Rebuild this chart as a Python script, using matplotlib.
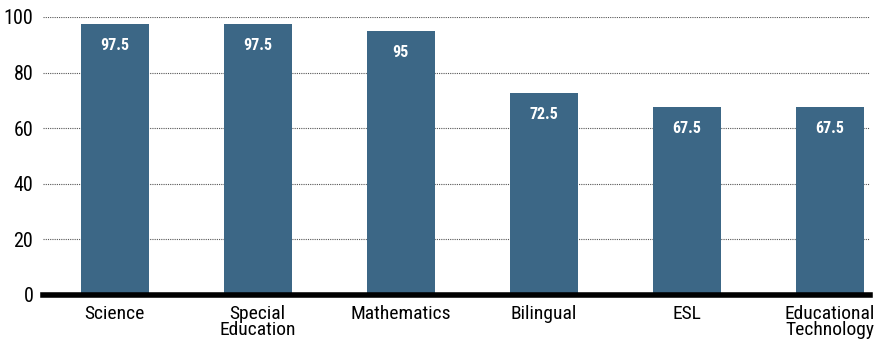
import matplotlib
matplotlib.use('Agg')
import matplotlib.pyplot as plt
from matplotlib import font_manager

# Subject areas and their percentages
materias = ['Science', 'Special\nEducation', 'Mathematics', 'Bilingual', 'ESL', 'Educational\nTechnology']
valores = [97.5, 97.5, 95, 72.5, 67.5, 67.5]
ticks_y = [0, 20, 40, 60, 80, 100]

nombres = {f.name for f in font_manager.fontManager.ttflist}
fuente = 'DejaVu Sans'
for candidata in ['Liberation Sans Narrow', 'Roboto Condensed', 'Roboto', 'Liberation Sans']:
    if candidata in nombres:
        fuente = candidata
        break
plt.rcParams['font.family'] = [fuente, 'DejaVu Sans']

fig = plt.figure(figsize=(8.75, 3.5), dpi=100)
ax = fig.add_axes([43 / 875, 1 - 295 / 350, (870 - 43) / 875, 278 / 350])

x = range(len(materias))
barras = ax.bar(x, valores, width=0.475, color='#3c6786', zorder=3)

for b, v in zip(barras, valores):
    ax.annotate(f'{v:g}', (b.get_x() + b.get_width() / 2, v), xytext=(0, -10),
                textcoords='offset points', ha='center', va='top',
                color='white', fontsize=11.5, fontweight='bold', zorder=4)

ax.set_xlim(-0.5, 5.28)
ax.set_ylim(0, 100)
ax.set_yticks(ticks_y)
ax.set_xticks(list(x))
ax.set_xticklabels(materias, fontsize=14, linespacing=0.9)
ax.tick_params(axis='y', labelsize=14.5, length=0, pad=7)
ax.tick_params(axis='x', length=0, pad=7)
ax.grid(axis='y', linestyle=(0, (1, 1)), color='#555555', linewidth=0.8, zorder=0)
for s in ['top', 'right', 'left']:
    ax.spines[s].set_visible(False)
ax.spines['bottom'].set_linewidth(4)
ax.spines['bottom'].set_color('black')
ax.spines['bottom'].set_zorder(5)
ax.spines['bottom'].set_clip_on(False)

fig.savefig('out.png', dpi=100)
